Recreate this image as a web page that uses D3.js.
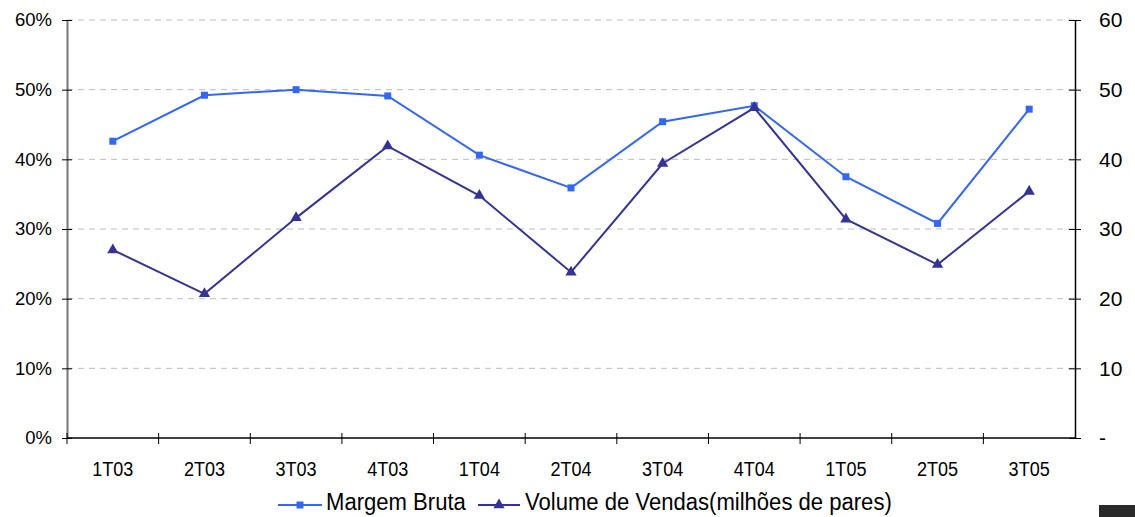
<!DOCTYPE html>
<html>
<head>
<meta charset="utf-8">
<script src="https://cdn.jsdelivr.net/npm/d3@7"></script>
<style>
  html, body { margin: 0; padding: 0; background: #fff; }
  svg { display: block; font-family: "Liberation Sans", Arial, sans-serif; }
</style>
</head>
<body>
<div id="chart"></div>
<script>
// Margem Bruta x Volume de Vendas
const categories = ["1T03", "2T03", "3T03", "4T03", "1T04", "2T04", "3T04", "4T04", "1T05", "2T05", "3T05"];
const margemBruta = [42.6, 49.2, 50.0, 49.1, 40.6, 35.9, 45.4, 47.7, 37.5, 30.8, 47.2];
const volumeVendas = [27.0, 20.7, 31.6, 41.9, 34.8, 23.8, 39.4, 47.4, 31.4, 24.9, 35.4];
const leftTicks = [0, 10, 20, 30, 40, 50, 60];
const rightTicks = [0, 10, 20, 30, 40, 50, 60];

const width = 1135, height = 517;
const margin = { top: 20, right: 60, bottom: 79, left: 67 };
const innerW = 1075 - margin.left;
const innerH = 438 - margin.top;

const svg = d3.select("#chart").append("svg")
  .attr("width", width)
  .attr("height", height);

const g = svg.append("g").attr("transform", `translate(${margin.left},${margin.top})`);

const x = d3.scaleBand().domain(categories).range([0, innerW]);
const yL = d3.scaleLinear().domain([0, 60]).range([innerH, 0]);
const yR = d3.scaleLinear().domain([0, 60]).range([innerH, 0]);

// gridlines
g.append("g").selectAll("line")
  .data(leftTicks.filter(d => d > 0))
  .enter().append("line")
  .attr("x1", 0).attr("x2", innerW)
  .attr("y1", d => yL(d)).attr("y2", d => yL(d))
  .attr("stroke", "#bdbdbd")
  .attr("stroke-width", 1)
  .attr("stroke-dasharray", "6,5");

// left axis
const leftAxis = g.append("g")
  .call(d3.axisLeft(yL).tickValues(leftTicks).tickFormat(d => d + "%").tickSize(5).tickSizeOuter(0));
leftAxis.select(".domain").attr("stroke", "#777").attr("stroke-width", 2);
leftAxis.selectAll(".tick line").attr("x2", 5).attr("x1", -5).attr("stroke", "#000");
leftAxis.selectAll(".tick text").attr("x", -15).attr("font-size", 18.5).attr("fill", "#000")
  .attr("font-family", "Liberation Sans, Arial, sans-serif");

// right axis
const rightAxis = g.append("g")
  .attr("transform", `translate(${innerW},0)`)
  .call(d3.axisRight(yR).tickValues(rightTicks).tickFormat(d => d === 0 ? "-" : d).tickSize(5).tickSizeOuter(0));
rightAxis.select(".domain").attr("stroke", "#000").attr("stroke-width", 1.5);
rightAxis.selectAll(".tick line").attr("x1", -6).attr("x2", 6).attr("stroke", "#000");
rightAxis.selectAll(".tick text").attr("x", 24).attr("font-size", 21).attr("fill", "#000")
  .attr("font-family", "Liberation Sans, Arial, sans-serif");

// bottom axis with ticks at category boundaries
const bottom = g.append("g").attr("transform", `translate(0,${innerH})`);
bottom.append("line").attr("x1", 0).attr("x2", innerW).attr("stroke", "#000").attr("stroke-width", 1.5);
bottom.selectAll(".bt")
  .data(categories.slice(1))
  .enter().append("line")
  .attr("x1", d => x(d)).attr("x2", d => x(d))
  .attr("y1", -5).attr("y2", 6)
  .attr("stroke", "#000");
bottom.append("line").attr("x1", 0).attr("x2", 0).attr("y1", -5).attr("y2", 6).attr("stroke", "#000");
bottom.selectAll(".lbl")
  .data(categories)
  .enter().append("text")
  .attr("transform", d => `translate(${x(d) + x.bandwidth() / 2},38) scale(0.86,1)`)
  .attr("text-anchor", "middle")
  .attr("font-size", 21)
  .attr("fill", "#000")
  .text(d => d);

const cx = d => x(d) + x.bandwidth() / 2;

const margemColor = "#3366ff";
const volumeColor = "#333399";

// Margem Bruta line
g.append("path")
  .datum(margemBruta)
  .attr("fill", "none")
  .attr("stroke", margemColor)
  .attr("stroke-width", 2)
  .attr("d", d3.line().x((d, i) => cx(categories[i])).y(d => yL(d)));

g.selectAll(".sq")
  .data(margemBruta)
  .enter().append("rect")
  .attr("x", (d, i) => cx(categories[i]) - 3.5)
  .attr("y", d => yL(d) - 3.5)
  .attr("width", 7).attr("height", 7)
  .attr("fill", margemColor);

// Volume de Vendas line
g.append("path")
  .datum(volumeVendas)
  .attr("fill", "none")
  .attr("stroke", volumeColor)
  .attr("stroke-width", 2)
  .attr("d", d3.line().x((d, i) => cx(categories[i])).y(d => yR(d)));

const tri = d3.symbol().type(d3.symbolTriangle).size(55);
g.selectAll(".tri")
  .data(volumeVendas)
  .enter().append("path")
  .attr("d", tri)
  .attr("transform", (d, i) => `translate(${cx(categories[i])},${yR(d)})`)
  .attr("fill", volumeColor);

// legend
const legend = svg.append("g").attr("transform", "translate(0,505)");
legend.append("line").attr("x1", 278).attr("x2", 322).attr("stroke", margemColor).attr("stroke-width", 2);
legend.append("rect").attr("x", 296.5).attr("y", -3.5).attr("width", 7).attr("height", 7).attr("fill", margemColor);
legend.append("text").attr("transform", "translate(326,5) scale(0.96,1)")
  .attr("font-size", 23).attr("fill", "#000").text("Margem Bruta");

legend.append("line").attr("x1", 478).attr("x2", 520).attr("stroke", volumeColor).attr("stroke-width", 2);
legend.append("path").attr("d", tri).attr("transform", "translate(499,0)").attr("fill", volumeColor);
legend.append("text").attr("transform", "translate(525,5) scale(0.96,1)")
  .attr("font-size", 23).attr("fill", "#000").text("Volume de Vendas(milhões de pares)");

// dark block in the bottom-right corner
svg.append("rect").attr("x", 1099).attr("y", 505).attr("width", 36).attr("height", 12).attr("fill", "#2a2a2a");
</script>
</body>
</html>
